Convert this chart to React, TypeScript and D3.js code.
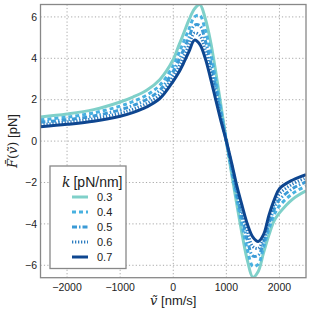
import { useEffect, useRef } from 'react'
import * as d3 from 'd3'

// velocity grid (nm/s) shared by all series
const vGrid = [-2500, -2000, -1500, -1000, -750, -500, -250, 0, 100, 200, 300, 400, 500, 600, 700, 800, 900, 1000,
  1100, 1200, 1300, 1400, 1500, 1600, 1700, 1800, 1900, 2000, 2250, 2500]

// mean force (pN) for each stiffness k
const fK03 = [1.17, 1.31, 1.52, 1.89, 2.14, 2.46, 2.98, 3.94, 4.59, 5.23, 5.88, 6.39, 6.6, 5.95, 4.85, 3.35, 1.7, 0,
  -1.6, -3.1, -4.55, -5.8, -6.58, -6.3, -5.4, -4.55, -3.85, -3.47, -2.8, -2.4]
const fK04 = [1.03, 1.16, 1.36, 1.69, 1.92, 2.22, 2.71, 3.64, 4.22, 4.82, 5.44, 6.0, 6.08, 5.39, 4.33, 2.96, 1.48, 0,
  -1.44, -2.84, -4.14, -5.29, -6.05, -5.95, -5.14, -4.27, -3.56, -3.13, -2.53, -2.17]
const fK05 = [0.91, 1.03, 1.21, 1.51, 1.73, 2.01, 2.47, 3.37, 3.88, 4.44, 5.04, 5.6, 5.58, 4.89, 3.87, 2.61, 1.29, 0,
  -1.3, -2.6, -3.78, -4.83, -5.55, -5.52, -4.92, -4.03, -3.3, -2.83, -2.29, -1.97]
const fK06 = [0.79, 0.92, 1.08, 1.35, 1.55, 1.82, 2.25, 3.12, 3.57, 4.1, 4.67, 5.22, 5.1, 4.43, 3.44, 2.28, 1.11, 0,
  -1.17, -2.38, -3.44, -4.41, -5.1, -5.18, -4.7, -3.8, -3.06, -2.55, -2.07, -1.78]
const fK07 = [0.69, 0.81, 0.96, 1.2, 1.39, 1.65, 2.06, 2.9, 3.3, 3.8, 4.35, 4.88, 4.67, 4.02, 3.06, 2.0, 0.95, 0,
  -1.06, -2.19, -3.15, -4.04, -4.64, -4.85, -4.52, -3.6, -2.85, -2.3, -1.88, -1.62]

const kLabels = ['0.3', '0.4', '0.5', '0.6', '0.7']
const kValues = [fK03, fK04, fK05, fK06, fK07]
const kColors = ['#7fd0c9', '#48b1e0', '#3b9ad6', '#2c7cc0', '#0e4690']
const kDashes = ['', '4,3', '5,2,1.5,2', '1.3,1.7', '']

const xTicks = [-2000, -1000, 0, 1000, 2000]
const yTicks = [-6, -4, -2, 0, 2, 4, 6]

const W = 311
const H = 314
const plot = { left: 40.5, right: 306, top: 4.5, bottom: 277.7 }
const sans = '"Liberation Sans", Arial, sans-serif'
const serif = '"DejaVu Serif", serif'
const minus = (v: number) => String(v).replace('-', '\u2212')

export default function App() {
  const ref = useRef<SVGSVGElement>(null)

  useEffect(() => {
    if (!ref.current) return
    d3.select(ref.current).selectAll('*').remove()

    const svg = d3.select(ref.current).attr('width', W).attr('height', H)

    const x = d3.scaleLinear().domain([-2500, 2500]).range([plot.left, plot.right])
    const y = d3.scaleLinear().domain([-6.6, 6.6]).range([plot.bottom, plot.top])

    svg.append('rect').attr('width', W).attr('height', H).attr('fill', '#fff')

    svg.append('clipPath').attr('id', 'plotclip')
      .append('rect')
      .attr('x', plot.left).attr('y', plot.top)
      .attr('width', plot.right - plot.left).attr('height', plot.bottom - plot.top)

    // dotted grid
    const grid = svg.append('g').attr('stroke', '#a8a8a8').attr('stroke-width', 1).attr('stroke-dasharray', '1.2,2.2')
    grid.selectAll('.gx').data(xTicks).join('line')
      .attr('x1', (d) => x(d)).attr('x2', (d) => x(d))
      .attr('y1', plot.top).attr('y2', plot.bottom)
    grid.selectAll('.gy').data(yTicks).join('line')
      .attr('x1', plot.left).attr('x2', plot.right)
      .attr('y1', (d) => y(d)).attr('y2', (d) => y(d))

    // curves
    const line = d3.line<number>()
      .x((_, i) => x(vGrid[i]))
      .y((d) => y(d))
      .curve(d3.curveCatmullRom.alpha(0.5))

    const curves = svg.append('g').attr('clip-path', 'url(#plotclip)')
    kValues.forEach((vals, i) => {
      curves.append('path')
        .attr('d', line(vals))
        .attr('fill', 'none')
        .attr('stroke', kColors[i])
        .attr('stroke-width', 3)
        .attr('stroke-dasharray', kDashes[i] || null)
    })

    // frame
    svg.append('rect')
      .attr('x', plot.left).attr('y', plot.top)
      .attr('width', plot.right - plot.left).attr('height', plot.bottom - plot.top)
      .attr('fill', 'none').attr('stroke', '#888').attr('stroke-width', 1.3)

    // tick labels
    svg.selectAll('.xt').data(xTicks).join('text')
      .attr('x', (d) => x(d)).attr('y', 290.5)
      .attr('text-anchor', 'middle')
      .attr('font-family', sans).attr('font-size', 10.5).attr('fill', '#222')
      .text((d) => minus(d))
    svg.selectAll('.yt').data(yTicks).join('text')
      .attr('x', 37).attr('y', (d) => y(d))
      .attr('dy', '0.36em')
      .attr('text-anchor', 'end')
      .attr('font-family', sans).attr('font-size', 10.5).attr('fill', '#222')
      .text((d) => minus(d))

    // axis labels
    const xl = svg.append('text')
      .attr('x', (plot.left + plot.right) / 2).attr('y', 305)
      .attr('text-anchor', 'middle').attr('font-size', 13).attr('fill', '#222')
    xl.append('tspan').attr('font-family', serif).attr('font-style', 'italic').text('v\u0303')
    xl.append('tspan').attr('font-family', sans).text(' [nm/s]')

    const yl = svg.append('text')
      .attr('transform', `translate(17,${(plot.top + plot.bottom) / 2}) rotate(-90)`)
      .attr('text-anchor', 'middle').attr('font-size', 13).attr('fill', '#222')
    yl.append('tspan').attr('font-family', serif).attr('font-style', 'italic').text('F\u0304')
    yl.append('tspan').attr('font-family', serif).text('(')
    yl.append('tspan').attr('font-family', serif).attr('font-style', 'italic').text('v\u0303')
    yl.append('tspan').attr('font-family', serif).text(')')
    yl.append('tspan').attr('font-family', sans).text(' [pN]')

    // legend
    const lg = svg.append('g')
    lg.append('rect')
      .attr('x', 50).attr('y', 166).attr('width', 76).attr('height', 102.5)
      .attr('fill', '#fff').attr('stroke', '#888').attr('stroke-width', 1.3)
    const lt = lg.append('text').attr('x', 62).attr('y', 187).attr('font-size', 14).attr('fill', '#222')
    lt.append('tspan').attr('font-family', serif).attr('font-style', 'italic').text('k')
    lt.append('tspan').attr('font-family', sans).attr('dx', 3).text('[pN/nm]')

    kLabels.forEach((lab, i) => {
      const yy = 197 + i * 15
      lg.append('line')
        .attr('x1', 72).attr('x2', 88).attr('y1', yy).attr('y2', yy)
        .attr('stroke', kColors[i]).attr('stroke-width', 3)
        .attr('stroke-dasharray', kDashes[i] || null)
      lg.append('text')
        .attr('x', 97).attr('y', yy).attr('dy', '0.36em')
        .attr('font-family', sans).attr('font-size', 11).attr('fill', '#222')
        .text(lab)
    })
  }, [])

  return <svg ref={ref} style={{ position: 'absolute', left: 0, top: 0, display: 'block' }} />
}
